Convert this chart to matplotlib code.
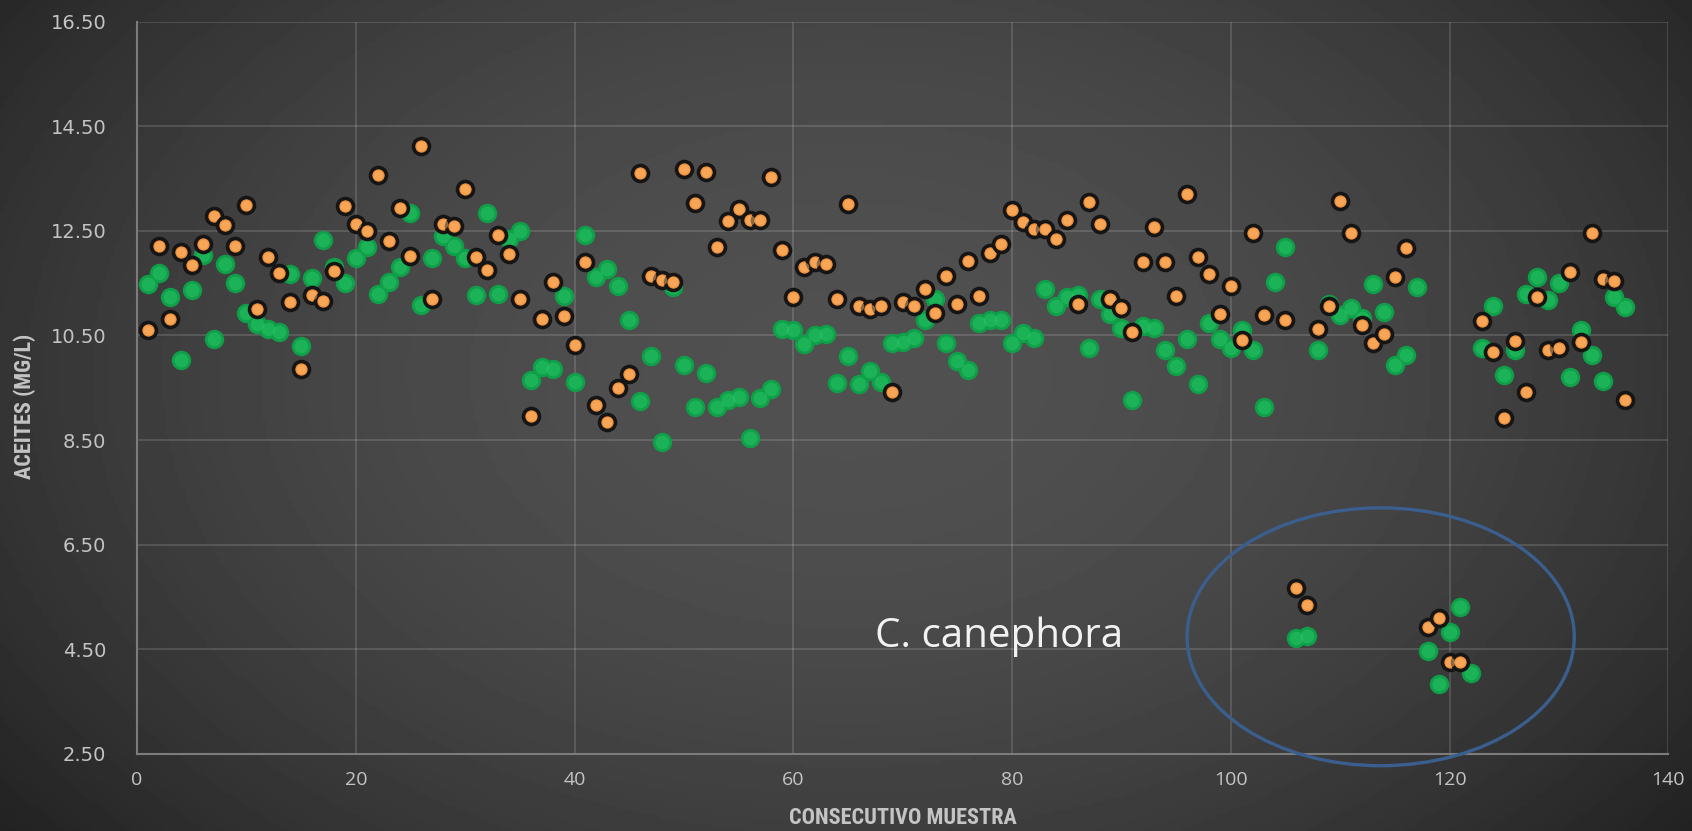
import matplotlib
matplotlib.use("Agg")
import matplotlib.pyplot as plt
import numpy as np
from matplotlib.patches import Ellipse
from matplotlib import font_manager

# consecutivo de muestra y contenido de aceites (mg/L)
muestra = np.arange(1, 137)

aceites_naranja = [
    10.60, 12.21, 10.81, 12.09, 11.84, 12.25, 12.79, 12.62, 12.21, 13.00,
    11.00, 12.00, 11.70, 11.14, 9.86, 11.27, 11.16, 11.73, 12.98, 12.64,
    12.50, 13.56, 12.31, 12.93, 12.01, 14.12, 11.19, 12.64, 12.60, 13.30,
    12.00, 11.76, 12.42, 12.05, 11.20, 8.97, 10.81, 11.53, 10.87, 10.31,
    11.90, 9.18, 8.85, 9.49, 9.76, 13.61, 11.63, 11.57, 11.53, 13.68,
    13.04, 13.63, 12.19, 12.68, 12.91, 12.71, 12.71, 13.53, 12.13, 11.24,
    11.80, 11.90, 11.86, 11.20, 13.02, 11.06, 11.00, 11.06, 9.41, 11.14,
    11.07, 11.39, 10.93, 11.63, 11.10, 11.92, 11.26, 12.07, 12.25, 12.89,
    12.66, 12.54, 12.54, 12.34, 12.71, 11.10, 13.06, 12.64, 11.20, 11.02,
    10.56, 11.90, 12.58, 11.90, 11.26, 13.20, 12.00, 11.68, 10.91, 11.45,
    10.42, 12.46, 10.89, np.nan, 10.79, 5.68, 5.35, 10.62, 11.07, 13.08,
    12.46, 10.70, 10.36, 10.53, 11.61, 12.17, np.nan, 4.92, 5.10, 4.25,
    4.25, np.nan, 10.77, 10.19, 8.93, 10.39, 9.41, 11.24, 10.23, 10.27,
    11.72, 10.37, 12.46, 11.58, 11.55, 9.27,
]

aceites_verde = [
    11.49, 11.70, 11.23, 10.04, 11.37, 12.03, 10.44, 11.86, 11.51, 10.93,
    10.72, 10.62, 10.57, 11.67, 10.30, 11.60, 12.33, 11.80, 11.51, 11.98,
    12.20, 11.30, 11.53, 11.80, 12.84, 11.09, 11.98, 12.40, 12.21, 11.98,
    11.28, 12.85, 11.30, 12.34, 12.50, 9.65, 9.90, 9.86, 11.26, 9.61,
    12.42, 11.61, 11.78, 11.45, 10.79, 9.24, 10.11, 8.46, 11.43, 9.94,
    9.14, 9.78, 9.14, 9.26, 9.32, 8.54, 9.30, 9.47, 10.62, 10.60,
    10.33, 10.50, 10.52, 9.59, 10.11, 9.57, 9.82, 9.61, 10.36, 10.38,
    10.46, 10.79, 11.20, 10.36, 10.01, 9.84, 10.73, 10.79, 10.79, 10.36,
    10.54, 10.46, 11.39, 11.06, 11.24, 11.28, 10.27, 11.20, 10.91, 10.64,
    9.26, 10.69, 10.64, 10.23, 9.92, 10.44, 9.57, 10.73, 10.44, 10.27,
    10.60, 10.23, 9.14, 11.52, 12.19, 4.71, 4.76, 10.22, 11.10, 10.90,
    11.03, 10.83, 11.49, 10.95, 9.94, 10.13, 11.43, 4.46, 3.84, 4.83,
    5.30, 4.04, 10.27, 11.06, 9.74, 10.23, 11.30, 11.61, 11.18, 11.51,
    9.70, 10.60, 10.13, 9.63, 11.24, 11.04,
]

y_ticks = np.arange(2.5, 16.51, 2.0)
x_ticks = np.arange(0, 141, 20)


def pick_font(names):
    avail = {f.name for f in font_manager.fontManager.ttflist}
    for n in names:
        if n in avail:
            return n
    return "DejaVu Sans"


narrow = pick_font(["Liberation Sans Narrow", "Roboto Condensed", "Open Sans"])
txt_font = pick_font(["Open Sans", "Lato", "DejaVu Sans"])

fig = plt.figure(figsize=(16.92, 8.31), dpi=100)

# fondo gris con degradado radial
bg = fig.add_axes([0, 0, 1, 1], zorder=-5)
gx, gy = np.meshgrid(np.linspace(0, 1, 400), np.linspace(0, 1, 200))
r2 = ((gx - 0.5) / 0.62) ** 2 + ((gy - 0.45) / 0.85) ** 2
grad = np.clip(0.315 - 0.17 * r2, 0.13, 0.33)
bg.imshow(grad, cmap="gray", vmin=0, vmax=1, aspect="auto",
          extent=[0, 1, 0, 1], origin="upper")
bg.axis("off")

ax = fig.add_axes([0.081, 0.0927, 0.905, 0.8813])
ax.set_facecolor("none")

ax.plot(muestra, aceites_verde, "o", ms=14, color="#0f9f48", mec="none", zorder=3)
ax.plot(muestra, aceites_verde, "o", ms=10, color="#2ccb6c", mec="none", alpha=0.45, zorder=3)
ax.plot(muestra, aceites_naranja, "o", ms=11.5, color="#f0903a", mec="#151515", mew=2.6, zorder=4)
ax.plot(muestra, aceites_naranja, "o", ms=7, color="#ffbb75", mec="none", alpha=0.5, zorder=4)

ax.set_xlim(0, 140)
ax.set_ylim(2.5, 16.5)
ax.set_xticks(x_ticks)
ax.set_yticks(y_ticks)
ax.set_yticklabels([f"{v:.2f}" for v in y_ticks], fontsize=14, color="#c4c4c4",
                   family="DejaVu Sans")
ax.set_xticklabels([str(v) for v in x_ticks], fontsize=14, color="#c4c4c4",
                   family=txt_font)
ax.tick_params(axis="both", length=0)
ax.tick_params(axis="y", pad=22)
ax.tick_params(axis="x", pad=12)

ax.grid(True, color="white", alpha=0.16, lw=1.2)
ax.set_axisbelow(True)
for s in ["top", "right"]:
    ax.spines[s].set_visible(False)
for s in ["left", "bottom"]:
    ax.spines[s].set_color("#7c7c7c")
    ax.spines[s].set_linewidth(1.5)

ax.set_xlabel("CONSECUTIVO MUESTRA", fontsize=16, fontweight="bold",
              color="#c4c4c4", family=narrow)
ax.set_ylabel("ACEITES (MG/L)", fontsize=16, fontweight="bold",
              color="#c4c4c4", family=narrow)
ax.xaxis.label.set_va("center")
ax.xaxis.set_label_coords(0.5, -0.088)
ax.yaxis.set_label_coords(-0.066, 0.474)

# anotacion del grupo C. canephora
ax.add_patch(Ellipse((113.7, 4.74), 35.4, 4.93, fill=False, ec="#3a5f8e",
                     lw=2.4, clip_on=False, zorder=5))
ax.text(78.8, 4.54, "C. canephora", fontsize=29, color="#f2f2f2",
        family=txt_font, ha="center", va="baseline", zorder=6)

fig.savefig("out.png", dpi=100)
